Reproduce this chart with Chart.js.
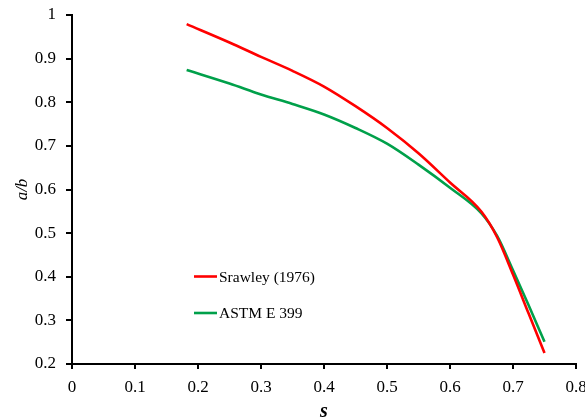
<!DOCTYPE html>
<html><head><meta charset="utf-8">
<script src="https://cdn.jsdelivr.net/npm/chart.js@4"></script>
<style>html,body{margin:0;padding:0;background:#fff}#wrap{width:585px;height:418px}</style>
</head><body><div id="wrap"><canvas id="c" width="585" height="418"></canvas></div>
<script>
// ---- data ----
const sValues      = [0.182, 0.25, 0.30, 0.35, 0.40, 0.45, 0.50, 0.55, 0.60, 0.65, 0.675, 0.70, 0.725, 0.75];
const srawley1976  = [0.979, 0.937, 0.904, 0.872, 0.836, 0.791, 0.741, 0.683, 0.616, 0.549, 0.490, 0.405, 0.315, 0.225];
const astmE399     = [0.874, 0.843, 0.818, 0.796, 0.772, 0.741, 0.705, 0.657, 0.604, 0.545, 0.493, 0.415, 0.334, 0.251];
const seriesLabels = ['Srawley (1976)', 'ASTM E 399'];
const xTickLabels  = ['0', '0.1', '0.2', '0.3', '0.4', '0.5', '0.6', '0.7', '0.8'];
const yTickLabels  = ['0.2', '0.3', '0.4', '0.5', '0.6', '0.7', '0.8', '0.9', '1'];

const FAMILY = '"Liberation Serif", "Times New Roman", serif';
const toPts = ys => ys.map((y, i) => ({x: sValues[i], y}));

const inLegend = {
  id: 'inLegend',
  afterDraw(chart, args, o) {
    const ctx = chart.ctx;
    ctx.save();
    ctx.font = o.font;
    ctx.textBaseline = 'middle';
    ctx.fillStyle = '#000';
    chart.data.datasets.forEach((ds, i) => {
      const y = o.y + i * o.gap;
      ctx.strokeStyle = ds.borderColor;
      ctx.lineWidth = o.lineWidth;
      ctx.beginPath();
      ctx.moveTo(o.x, y);
      ctx.lineTo(o.x + o.len, y);
      ctx.stroke();
      ctx.fillText(ds.label, o.x + o.len + o.textGap, y + 1);
    });
    ctx.restore();
  }
};

new Chart(document.getElementById('c'), {
  type: 'line',
  data: {
    datasets: [
      {label: seriesLabels[0], data: toPts(srawley1976), borderColor: '#ff0000', borderWidth: 2.6,
       pointRadius: 0, cubicInterpolationMode: 'monotone', fill: false},
      {label: seriesLabels[1], data: toPts(astmE399), borderColor: '#00a04a', borderWidth: 2.6,
       pointRadius: 0, cubicInterpolationMode: 'monotone', fill: false}
    ]
  },
  options: {
    responsive: false, animation: false, devicePixelRatio: 1,
    layout: {padding: {top: 15, right: 9, left: 0, bottom: 0}},
    plugins: {
      legend: {display: false}, tooltip: {enabled: false},
      inLegend: {x: 194, len: 23, textGap: 2, y: 276.5, gap: 36.5, lineWidth: 2.6,
                 font: '15.5px ' + FAMILY}
    },
    scales: {
      x: {
        type: 'linear', min: 0, max: 0.8,
        ticks: {stepSize: 0.1, color: '#000', padding: 8, font: {family: FAMILY, size: 17},
                callback: (v, i) => xTickLabels[i]},
        grid: {display: true, drawOnChartArea: false, drawTicks: true, tickLength: 5, color: '#000', lineWidth: 2},
        border: {display: true, color: '#000', width: 2},
        title: {display: true, text: 's', color: '#000',
                font: {family: FAMILY, size: 20, style: 'italic', weight: 'bold', lineHeight: 1},
                padding: {top: 0, bottom: -4}},
        afterFit(s) { s.height = 54; s.paddingLeft = 0; s.paddingRight = 0; }
      },
      y: {
        type: 'linear', min: 0.2, max: 1,
        ticks: {stepSize: 0.1, color: '#000', padding: 10, font: {family: FAMILY, size: 17},
                callback: (v, i) => yTickLabels[i]},
        grid: {display: true, drawOnChartArea: false, drawTicks: true, tickLength: 6, color: '#000', lineWidth: 2},
        border: {display: true, color: '#000', width: 2},
        title: {display: true, text: 'a/b', color: '#000',
                font: {family: FAMILY, size: 17, style: 'italic', lineHeight: 1.2},
                padding: {top: 12, bottom: 4}},
        afterFit(s) { s.width = 72; s.paddingTop = 0; s.paddingBottom = 0; }
      }
    }
  },
  plugins: [inLegend]
});
</script>
</body></html>
